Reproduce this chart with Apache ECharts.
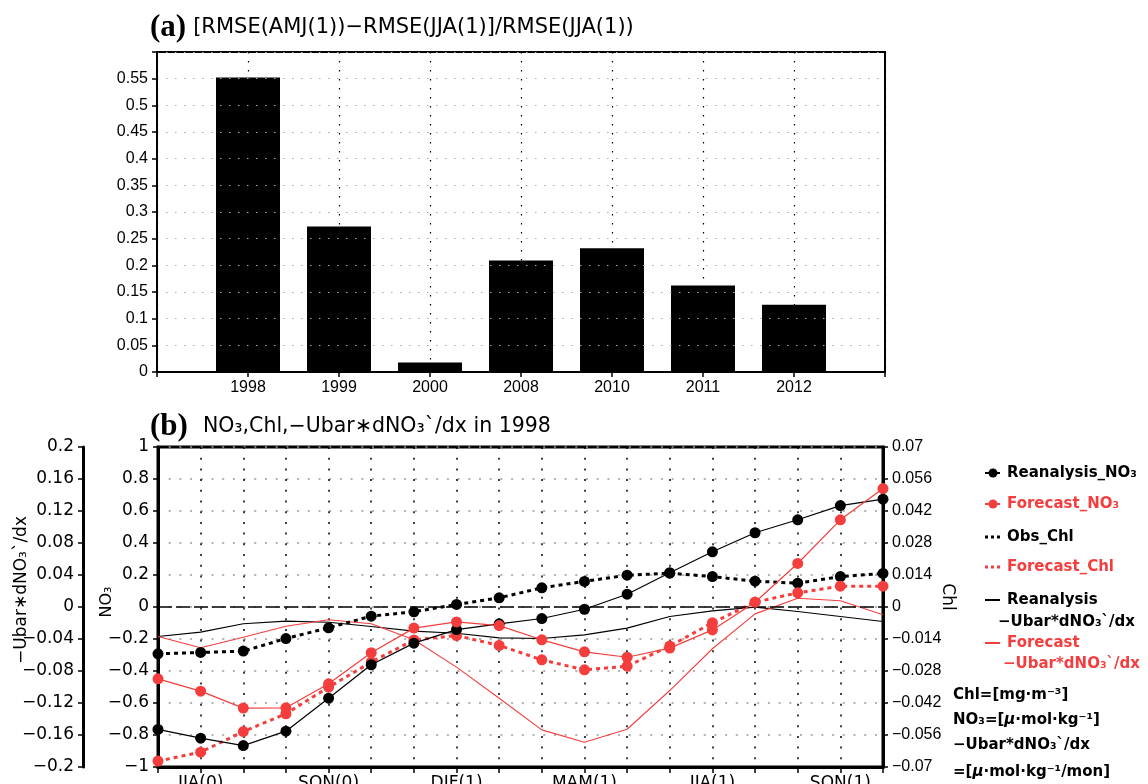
<!DOCTYPE html>
<html>
<head>
<meta charset="utf-8">
<script src="https://cdn.jsdelivr.net/npm/echarts@6/dist/echarts.min.js"></script>
<style>
  html, body { margin: 0; padding: 0; background: #fff; }
  #chart { width: 1148px; height: 784px; }
</style>
</head>
<body>
<div id="chart"></div>
<script>
// ---- Panel (a): relative RMSE change by year ----
const years = ['1998', '1999', '2000', '2008', '2010', '2011', '2012'];
const rmseChange = [0.552, 0.273, 0.018, 0.209, 0.232, 0.162, 0.126];

// ---- Panel (b): running 3-month seasons, 1998 event ----
const seasons = ['MJJ(0)', 'JJA(0)', 'JAS(0)', 'ASO(0)', 'SON(0)', 'OND(0)', 'NDJ(1)', 'DJF(1)', 'JFM(1)',
                 'FMA(1)', 'MAM(1)', 'AMJ(1)', 'MJJ(1)', 'JJA(1)', 'JAS(1)', 'ASO(1)', 'SON(1)', 'OND(1)'];
// NO3 anomalies [umol/kg]
const reanalysisNO3 = [-0.765, -0.82, -0.866, -0.776, -0.57, -0.361, -0.226, -0.141, -0.105,
                       -0.072, -0.014, 0.08, 0.214, 0.345, 0.464, 0.545, 0.634, 0.674];
const forecastNO3   = [-0.449, -0.526, -0.632, -0.63, -0.48, -0.286, -0.132, -0.093, -0.116,
                       -0.205, -0.28, -0.314, -0.257, -0.143, 0.03, 0.272, 0.545, 0.74];
// Chl anomalies [mg/m3]
const obsChl      = [-0.0205, -0.0199, -0.0193, -0.0138, -0.0091, -0.004, -0.0021, 0.0011, 0.004,
                     0.0084, 0.0112, 0.0139, 0.0148, 0.0133, 0.0113, 0.0104, 0.0133, 0.0147];
const forecastChl = [-0.0674, -0.0635, -0.0545, -0.0467, -0.0351, -0.0241, -0.0144, -0.0125, -0.0168,
                     -0.0231, -0.0275, -0.0259, -0.0171, -0.0069, 0.0021, 0.0062, 0.0091, 0.0091];
// Zonal advection term -Ubar*dNO3'/dx [umol/kg/mon]
const reanalysisAdv = [-0.0368, -0.0314, -0.021, -0.0177, -0.019, -0.0244, -0.0302, -0.0328, -0.0386,
                       -0.0394, -0.0348, -0.0264, -0.0118, -0.0048, -0.0002, -0.0056, -0.0118, -0.0182];
const forecastAdv   = [-0.0368, -0.051, -0.0378, -0.024, -0.016, -0.021, -0.041, -0.0752, -0.114,
                       -0.1536, -0.169, -0.1528, -0.1044, -0.0522, -0.0086, 0.011, 0.0078, -0.0098];

const RED = '#f43e3e';
const SANS = '"DejaVu Sans", sans-serif';
const HELV = '"Liberation Sans", Arial, sans-serif';

// numeric tick text with a true minus sign
function fmt(v) {
  const r = parseFloat(v.toFixed(4));
  if (Math.abs(r) < 1e-9) return '0';
  return (r < 0 ? '\u2212' : '') + String(Math.abs(r));
}

// legend block drawn on the right of panel (b)
const LX = 985, LX2 = 1000, TX = 1007;
const legendFont = 'bold 15px ' + SANS;
function legendIcon(y, color, dotted, dot) {
  const els = [{
    type: 'line',
    shape: { x1: LX, y1: y, x2: LX2, y2: y },
    style: { stroke: color, lineWidth: dotted ? 3 : 2, lineDash: dotted ? [3, 3] : null }
  }];
  if (dot) els.push({ type: 'circle', shape: { cx: 993, cy: y, r: 4.5 }, style: { fill: color } });
  return els;
}
function legendText(x, y, text, color) {
  return {
    type: 'text', x: x, y: y,
    style: {
      text: text, fill: color, font: legendFont, verticalAlign: 'middle', align: 'left',
      rich: { i: { fontStyle: 'italic', fontWeight: 'bold', fontSize: 15, fontFamily: SANS, fill: color } }
    }
  };
}
// rotated axis titles of panel (b)
function axisTitle(x, y, text, rot, size) {
  return {
    type: 'text', x: x, y: y, rotation: rot,
    style: { text: text, fill: '#000', font: size + 'px ' + SANS, align: 'center', verticalAlign: 'middle' }
  };
}

const graphics = [
  {
    type: 'text', x: 150, y: 28,
    style: {
      text: '{b|(a)}{t|[RMSE(AMJ(1))\u2212RMSE(JJA(1)]/RMSE(JJA(1))}',
      verticalAlign: 'middle',
      rich: {
        b: { fontFamily: '"Liberation Serif", serif', fontWeight: 'bold', fontSize: 31, fill: '#000', padding: [0, 7, 0, 0] },
        t: { fontFamily: SANS, fontSize: 21, fill: '#000' }
      }
    }
  },
  {
    type: 'text', x: 150, y: 427,
    style: {
      text: '{b|(b)}{t|NO\u2083,Chl,\u2212Ubar\u2217dNO\u2083`/dx in 1998}',
      verticalAlign: 'middle',
      rich: {
        b: { fontFamily: '"Liberation Serif", serif', fontWeight: 'bold', fontSize: 31, fill: '#000', padding: [0, 15, 0, 0] },
        t: { fontFamily: SANS, fontSize: 20.5, fill: '#000' }
      }
    }
  },
  axisTitle(107, 602, 'NO\u2083', Math.PI / 2, 16),
  axisTitle(22, 590, '\u2212Ubar\u2217dNO\u2083`/dx', Math.PI / 2, 17),
  axisTitle(947, 597, 'Chl', -Math.PI / 2, 17)
]
  .concat(legendIcon(473, '#000', false, true))
  .concat([legendText(TX, 473, 'Reanalysis_NO\u2083', '#000')])
  .concat(legendIcon(504, RED, false, true))
  .concat([legendText(TX, 504, 'Forecast_NO\u2083', RED)])
  .concat(legendIcon(537, '#000', true, false))
  .concat([legendText(TX, 537, 'Obs_Chl', '#000')])
  .concat(legendIcon(567, RED, true, false))
  .concat([legendText(TX, 567, 'Forecast_Chl', RED)])
  .concat(legendIcon(600, '#000', false, false))
  .concat([legendText(TX, 600, 'Reanalysis', '#000'),
           legendText(998, 622, '\u2212Ubar*dNO\u2083`/dx', '#000')])
  .concat(legendIcon(643, RED, false, false))
  .concat([legendText(TX, 643, 'Forecast', RED),
           legendText(1003, 664, '\u2212Ubar*dNO\u2083`/dx', RED),
           legendText(953, 695, 'Chl=[mg\u00b7m\u207b\u00b3]', '#000'),
           legendText(953, 720, 'NO\u2083=[{i|\u03bc}\u00b7mol\u00b7kg\u207b\u00b9]', '#000'),
           legendText(953, 745, '\u2212Ubar*dNO\u2083`/dx', '#000'),
           legendText(953, 772, '=[{i|\u03bc}\u00b7mol\u00b7kg\u207b\u00b9/mon]', '#000')]);

const chart = echarts.init(document.getElementById('chart'));

const option = {
  animation: false,
  backgroundColor: '#fff',
  grid: [
    { left: 157, top: 52, width: 728, height: 320, show: true, borderColor: '#000', borderWidth: 2,
      containLabel: false, outerBoundsMode: 'none' },
    { left: 158, top: 447, width: 725, height: 320, show: true, borderColor: '#000', borderWidth: 3,
      containLabel: false, outerBoundsMode: 'none' }
  ],
  xAxis: [
    {
      gridIndex: 0, type: 'value', min: 0, max: 8, interval: 1,
      axisLine: { onZero: false, lineStyle: { color: '#000', width: 2 } },
      axisTick: { show: true, length: 5, lineStyle: { color: '#000', width: 1.5 } },
      axisLabel: {
        formatter: v => (v >= 1 && v <= years.length) ? years[v - 1] : '',
        color: '#000', fontSize: 16, fontFamily: HELV, margin: 8
      },
      splitLine: { show: true, lineStyle: { color: '#000', width: 1.2, type: [1.5, 7.5] } }
    },
    {
      gridIndex: 1, type: 'category', data: seasons, boundaryGap: false,
      axisLine: { onZero: false, lineStyle: { color: '#000', width: 3 } },
      axisTick: { show: true, interval: 0, length: 6, lineStyle: { color: '#000', width: 1.5 } },
      axisLabel: {
        interval: i => i % 3 === 1,
        color: '#000', fontSize: 17, fontFamily: SANS, margin: 8
      },
      splitLine: { show: true, interval: 0, lineStyle: { color: '#000', width: 1.5, type: [2, 8.7] } }
    }
  ],
  yAxis: [
    {
      gridIndex: 0, type: 'value', min: 0, max: 0.6, interval: 0.05,
      axisLine: { show: true, onZero: false, lineStyle: { color: '#000', width: 2 } },
      axisTick: { show: true, length: 5, lineStyle: { color: '#000', width: 1.5 } },
      axisLabel: {
        formatter: v => v > 0.58 ? '' : String(parseFloat(v.toFixed(2))),
        color: '#000', fontSize: 16, fontFamily: HELV, margin: 9
      },
      splitLine: { show: true, lineStyle: { color: '#aaa', width: 1.2, type: [1.5, 7.5] } }
    },
    {
      // NO3
      gridIndex: 1, type: 'value', position: 'left', min: -1, max: 1, interval: 0.2,
      axisLine: { show: true, onZero: false, lineStyle: { color: '#000', width: 3 } },
      axisTick: { show: true, length: 5, lineStyle: { color: '#000', width: 1.5 } },
      axisLabel: { formatter: fmt, color: '#000', fontSize: 17, fontFamily: SANS, margin: 9 },
      splitLine: { show: true, lineStyle: { color: '#999', width: 1.5, type: [2, 8.7] } }
    },
    {
      // -Ubar*dNO3'/dx
      gridIndex: 1, type: 'value', position: 'left', offset: 75, min: -0.2, max: 0.2, interval: 0.04,
      axisLine: { show: true, onZero: false, lineStyle: { color: '#000', width: 3 } },
      axisTick: { show: true, length: 5, lineStyle: { color: '#000', width: 1.5 } },
      axisLabel: { formatter: fmt, color: '#000', fontSize: 17, fontFamily: SANS, margin: 9 },
      splitLine: { show: false }
    },
    {
      // Chl
      gridIndex: 1, type: 'value', position: 'right', min: -0.07, max: 0.07, interval: 0.014,
      axisLine: { show: true, onZero: false, lineStyle: { color: '#000', width: 3 } },
      axisTick: { show: true, length: 5, lineStyle: { color: '#000', width: 1.5 } },
      axisLabel: { formatter: fmt, color: '#000', fontSize: 16, fontFamily: HELV, margin: 9 },
      splitLine: { show: false }
    }
  ],
  graphic: graphics,
  series: [
    {
      type: 'bar', xAxisIndex: 0, yAxisIndex: 0, z: -1,
      data: years.map((y, i) => [i + 1, rmseChange[i]]),
      barWidth: 64,
      itemStyle: { color: '#000' }
    },
    {
      name: 'Reanalysis -Ubar*dNO3`/dx', type: 'line', xAxisIndex: 1, yAxisIndex: 2,
      data: reanalysisAdv, symbol: 'none', clip: false,
      lineStyle: { color: '#000', width: 1.1 }, z: 3
    },
    {
      name: 'Forecast -Ubar*dNO3`/dx', type: 'line', xAxisIndex: 1, yAxisIndex: 2,
      data: forecastAdv, symbol: 'none', clip: false,
      lineStyle: { color: RED, width: 1.1 }, z: 3
    },
    {
      name: 'Obs_Chl', type: 'line', xAxisIndex: 1, yAxisIndex: 3,
      data: obsChl, symbol: 'circle', symbolSize: 11, showAllSymbol: true, clip: false,
      itemStyle: { color: '#000' },
      lineStyle: { color: '#000', width: 3, type: [4, 4] }, z: 4
    },
    {
      name: 'Forecast_Chl', type: 'line', xAxisIndex: 1, yAxisIndex: 3,
      data: forecastChl, symbol: 'circle', symbolSize: 11, showAllSymbol: true, clip: false,
      itemStyle: { color: RED },
      lineStyle: { color: RED, width: 3, type: [4, 4] }, z: 4
    },
    {
      name: 'Reanalysis_NO3', type: 'line', xAxisIndex: 1, yAxisIndex: 1,
      data: reanalysisNO3, symbol: 'circle', symbolSize: 11, showAllSymbol: true, clip: false,
      itemStyle: { color: '#000' },
      lineStyle: { color: '#000', width: 1.2 }, z: 5,
      markLine: {
        silent: true, symbol: 'none', animation: false,
        label: { show: false },
        lineStyle: { color: '#000', width: 1.5, type: [14, 4] },
        data: [{ yAxis: 0 }]
      }
    },
    {
      name: 'Forecast_NO3', type: 'line', xAxisIndex: 1, yAxisIndex: 1,
      data: forecastNO3, symbol: 'circle', symbolSize: 11, showAllSymbol: true, clip: false,
      itemStyle: { color: RED },
      lineStyle: { color: RED, width: 1.2 }, z: 5
    }
  ]
};

chart.setOption(option);
</script>
</body>
</html>
